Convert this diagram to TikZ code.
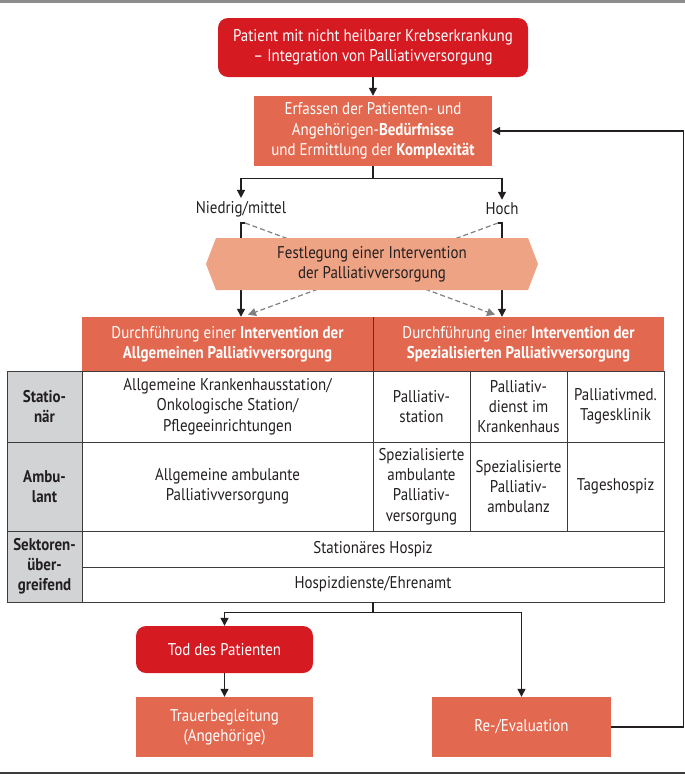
\documentclass[tikz,border=0pt]{standalone}
\usepackage{fontspec}
\setmainfont[FakeStretch=0.88]{PT Sans}
\usetikzlibrary{arrows.meta, positioning, backgrounds, shapes.symbols}

\definecolor{tumred}{RGB}{214,26,34}
\definecolor{boxorange}{RGB}{226,105,80}
\definecolor{hexsalmon}{RGB}{239,163,133}
\definecolor{labelgray}{RGB}{210,211,213}
\definecolor{gridgray}{RGB}{60,60,60}
\definecolor{linecol}{RGB}{35,31,32}
\definecolor{dashgray}{RGB}{128,128,128}
\definecolor{rulegray}{RGB}{140,140,140}

\tikzset{
  every node/.style={font=\fontsize{17}{20.3}\selectfont, align=center, inner sep=0pt, text=linecol},
  redbox/.style={fill=tumred, text=white, rounded corners=10pt},
  orangebox/.style={fill=boxorange, text=white},
  hexbox/.style={fill=hexsalmon, signal, signal to=east and west, signal pointer angle=138,
    minimum width=332pt, minimum height=52pt},
  headcell/.style={fill=boxorange, text=white, minimum width=291pt, minimum height=54pt},
  sidecell/.style={draw=gridgray, fill=labelgray, line width=0.8pt,
    font=\fontsize{17}{20}\selectfont\bfseries, minimum width=75pt},
  cell/.style={draw=gridgray, line width=0.8pt},
  flow/.style={draw=linecol, line width=1.3pt, -{Triangle[length=8pt,width=8pt]}},
  dashflow/.style={draw=dashgray, line width=1.2pt, dash pattern=on 5pt off 3pt,
    -{Triangle[length=8pt,width=8pt]}},
}

\begin{document}
\begin{tikzpicture}[x=1pt, y=-1pt]
\useasboundingbox (0,0) rectangle (685,777);

% rules
\draw[rulegray, line width=2.5pt] (0,1.5) -- (685,1.5);
\draw[gridgray, line width=1.2pt] (0,773) -- (685,773);

% top part
\node[redbox, minimum width=310pt, minimum height=59pt] (patient) at (373,47.5)
  {Patient mit nicht heilbarer Krebserkrankung\\– Integration von Palliativversorgung};
\node[orangebox, minimum width=238pt, minimum height=70pt] (erf) at (373,131)
  {Erfassen der Patienten- und\\Angehörigen-\textbf{Bedürfnisse}\\und Ermittlung der \textbf{Komplexität}};
\node (low) at (241,209) {Niedrig/mittel};
\node (high) at (502,209) {Hoch};
\coordinate (lowtop) at (241,223);
\coordinate (hightop) at (502,223);

\node[hexbox] (fest) at (372,264) {Festlegung einer Intervention\\der Palliativversorgung};

% table
\node[headcell] (allg) at (227.5,344)
  {Durchführung einer \textbf{Intervention der}\\\textbf{Allgemeinen Palliativversorgung}};
\node[headcell] (spez) at (518.5,344)
  {Durchführung einer \textbf{Intervention der}\\\textbf{Spezialisierten Palliativversorgung}};
\draw[gridgray, line width=0.8pt] (allg.north east) -- (allg.south east);

\node[sidecell, minimum height=71pt] (stat) at (44.5,406.5) {Statio-\\när};
\node[sidecell, minimum height=89pt] (amb) at (44.5,486.5) {Ambu-\\lant};
\node[sidecell, minimum height=71pt] (sek) at (44.5,566.5) {Sektoren-\\über-\\greifend};

\node[cell, minimum width=291pt, minimum height=71pt] (statallg) at (227.5,406.5)
  {Allgemeine Krankenhausstation/\\Onkologische Station/\\Pflegeeinrichtungen};
\node[cell, minimum width=97pt, minimum height=71pt] (palst) at (421.5,406.5) {Palliativ-\\station};
\node[cell, minimum width=97pt, minimum height=71pt] (paldienst) at (518.5,406.5) {Palliativ-\\dienst im\\Krankenhaus};
\node[cell, minimum width=97pt, minimum height=71pt] (tagesklinik) at (615.5,406.5) {Palliativmed.\\Tagesklinik};

\node[cell, minimum width=291pt, minimum height=89pt] (ambllg) at (227.5,486.5)
  {Allgemeine ambulante\\Palliativversorgung};
\node[cell, minimum width=97pt, minimum height=89pt] (sapv) at (421.5,486.5) {Spezialisierte\\ambulante\\Palliativ-\\versorgung};
\node[cell, minimum width=97pt, minimum height=89pt] (palamb) at (518.5,486.5) {Spezialisierte\\Palliativ-\\ambulanz};
\node[cell, minimum width=97pt, minimum height=89pt] (tageshospiz) at (615.5,486.5) {Tageshospiz};

\node[cell, minimum width=582pt, minimum height=36pt] (hospiz) at (373,549) {Stationäres Hospiz};
\node[cell, minimum width=582pt, minimum height=35pt] (dienste) at (373,584.5) {Hospizdienste/Ehrenamt};

% bottom part
\node[redbox, minimum width=177pt, minimum height=47pt] (tod) at (224.5,649.5) {Tod des Patienten};
\node[orangebox, minimum width=177pt, minimum height=60pt] (trauer) at (224.5,727) {Trauerbegleitung\\(Angehörige)};
\node[orangebox, minimum width=179pt, minimum height=60pt] (reeval) at (521.5,727) {Re-/Evaluation};

% connectors
\draw[flow] (patient) -- (erf);
\draw[flow] (erf.south) -- ++(0,12) -| ([yshift=3pt]low.north);
\draw[flow] (erf.south) -- ++(0,12) -| ([yshift=3pt]high.north);
\begin{pgfonlayer}{background}
  \draw[flow] ([xshift=4pt]lowtop) -- (lowtop) -- (lowtop |- allg.north);
  \draw[flow] ([xshift=-4pt]hightop) -- (hightop) -- (hightop |- spez.north);
  \draw[dashflow] ([xshift=4pt]lowtop) -- ([xshift=-7pt,yshift=2pt]hightop |- spez.north);
  \draw[dashflow] ([xshift=-4pt]hightop) -- ([xshift=7pt,yshift=2pt]lowtop |- allg.north);
\end{pgfonlayer}
\draw[flow] (dienste.south) -- ++(0,10) -| (tod.north);
\draw[flow] (dienste.south) -- ++(0,10) -| (reeval.north);
\draw[flow] (tod) -- (trauer);
\draw[flow] (reeval.east) -- ++(72,0) |- (erf.east);
\end{tikzpicture}
\end{document}
